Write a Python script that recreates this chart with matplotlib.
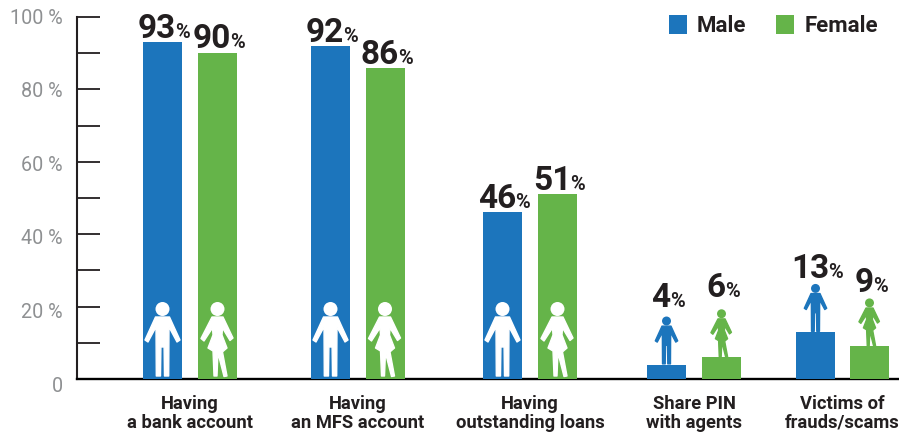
import matplotlib
matplotlib.use("Agg")
import matplotlib.pyplot as plt
from matplotlib.patches import Circle, Polygon
from matplotlib.transforms import Affine2D, ScaledTranslation

categories = ["Having\na bank account", "Having\nan MFS account", "Having\noutstanding loans",
              "Share PIN\nwith agents", "Victims of\nfrauds/scams"]
male = [93, 92, 46, 4, 13]
female = [90, 86, 51, 6, 9]
y_ticks = list(range(0, 101, 10))
y_labels = ["0", "", "20 %", "", "40 %", "", "60 %", "", "80 %", "", "100 %"]

BLUE = "#1c75bc"
GREEN = "#65b449"
DARK = "#231f20"
GREY = "#8e9092"
FONT = "Roboto"

# layout, in pixels
W, H = 899, 432
AX_LEFT, AX_TOP, AX_BOTTOM = 77, 17, 379
PX_PER_UNIT = (AX_BOTTOM - AX_TOP) / 100
bar_w = 39
male_x = [162.5, 330.5, 502.5, 666.5, 815.5]
female_x = [217.5, 385, 557.5, 721.5, 869.5]
male_gap = [4, 4, 4, 58, 54]
female_gap = [5, 4, 4, 60, 54]

# figure outlines, feet at 0, y goes up, 75 px tall at full size
MAN = [(-7, 60), (7, 60), (17.5, 37), (14.5, 35), (6.5, 50), (6.2, 1), (2, 1), (1.6, 30),
       (-1.6, 30), (-2, 1), (-6.2, 1), (-6.5, 50), (-14.5, 35), (-17.5, 37)]
WOMAN = [(-5.5, 60), (5.5, 60), (15.5, 39), (12.5, 36.5), (5, 49), (4.5, 42), (9.5, 29), (6, 26),
         (5, 25), (9.5, 1), (6.5, 0.5), (1.5, 20), (0.5, 25), (-0.5, 1), (-3.5, 1), (-4.5, 26),
         (-9.5, 29), (-4.5, 42), (-5, 49), (-13.5, 36), (-16.5, 38.5)]


def draw_person(ax, x, bottom, size, color, shape):
    # outline is in pixels, so y has to be squeezed into axis units
    tr = Affine2D().scale(size, size / PX_PER_UNIT).translate(x, bottom) + ax.transData
    ax.add_patch(Polygon(shape, closed=True, facecolor=color, edgecolor=color, linewidth=1.0,
                         joinstyle="round", transform=tr, zorder=4))
    head = Circle((0, 0), 7, facecolor=color, edgecolor="none", zorder=4,
                  transform=Affine2D().translate(0, 68).scale(size)
                  + Affine2D().scale(1, 1 / PX_PER_UNIT).translate(x, bottom) + ax.transData)
    ax.add_patch(head)


def value_label(fig, ax, x, top, gap, value):
    # large number followed by a small percent sign, centred together over the bar
    r = fig.canvas.get_renderer()
    y = top + gap / PX_PER_UNIT
    num = ax.text(x, y, str(value), fontsize=24, fontweight="bold", color=DARK, family=FONT,
                  ha="left", va="baseline", zorder=5)
    pct = ax.text(x, y, "%", fontsize=14.5, fontweight="bold", color=DARK, family=FONT,
                  ha="left", va="baseline", zorder=5)
    w1 = num.get_window_extent(r).width
    w2 = pct.get_window_extent(r).width
    left = x + 2 - (w1 + w2) / 2
    num.set_x(left)
    pct.set_x(left + w1 - 1)


def main():
    fig = plt.figure(figsize=(W / 100, H / 100), dpi=100)
    ax = fig.add_axes([AX_LEFT / W, 1 - AX_BOTTOM / H, 1 - AX_LEFT / W, (AX_BOTTOM - AX_TOP) / H])
    ax.set_xlim(AX_LEFT, W)
    ax.set_ylim(0, 100)

    ax.bar(male_x, male, width=bar_w, color=BLUE, label="Male", zorder=3)
    ax.bar(female_x, female, width=bar_w, color=GREEN, label="Female", zorder=3)

    for i in range(len(male)):
        if male[i] > 20:
            draw_person(ax, male_x[i], 2 / PX_PER_UNIT, 1, "white", MAN)
            draw_person(ax, female_x[i], 2 / PX_PER_UNIT, 1, "white", WOMAN)
        else:
            draw_person(ax, male_x[i], male[i], 0.64, BLUE, MAN)
            draw_person(ax, female_x[i], female[i], 0.64, GREEN, WOMAN)
        value_label(fig, ax, male_x[i], male[i], male_gap[i], male[i])
        value_label(fig, ax, female_x[i], female[i], female_gap[i], female[i])

    for side in ["top", "right"]:
        ax.spines[side].set_visible(False)
    ax.spines["left"].set_linewidth(1.5)
    ax.spines["left"].set_color(DARK)
    ax.spines["bottom"].set_linewidth(1.7)
    ax.spines["bottom"].set_color("black")

    ax.set_yticks(y_ticks)
    ax.set_yticklabels(y_labels, fontsize=14.2, color=GREY, family=FONT, fontweight="normal")
    ax.tick_params(axis="y", direction="in", length=16.5, width=1.3, color=DARK, pad=10)
    # the tick labels sit a little lower than their ticks, more so near zero
    for lab, v in zip(ax.get_yticklabels(), y_ticks):
        dy = (5 - 0.06 * v) / 100
        lab.set_transform(lab.get_transform() + ScaledTranslation(0, -dy, fig.dpi_scale_trans))

    centers = [(a + b) / 2 for a, b in zip(male_x, female_x)]
    ax.set_xticks(centers)
    ax.set_xticklabels(categories, fontsize=13.2, fontweight="bold", color=DARK, family=FONT,
                       linespacing=1.05)
    ax.tick_params(axis="x", length=0, pad=11.5)

    ax.legend(loc="upper right", bbox_to_anchor=(878 / W, 1 - 15 / H), bbox_transform=fig.transFigure,
              ncols=2, frameon=False, borderpad=0, borderaxespad=0, handlelength=0.81, handleheight=0.95,
              handletextpad=0.45, columnspacing=1.36,
              prop={"family": FONT, "weight": "bold", "size": 16}, labelcolor=DARK)

    fig.savefig("out.png", dpi=100)


if __name__ == "__main__":
    main()
